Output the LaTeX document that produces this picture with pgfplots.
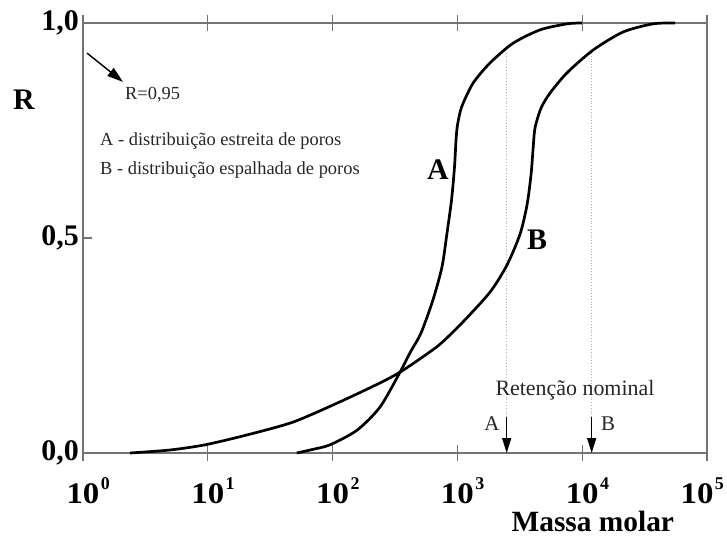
\documentclass[border=0pt]{standalone}
\usepackage{fontspec}
\setmainfont{Liberation Serif}
\usepackage{pgfplots}
\pgfplotsset{compat=1.18}
\usetikzlibrary{arrows.meta}
\newcommand{\dec}[1]{\scalebox{1.1}[1]{10}\rlap{\hspace{1.5bp}\raisebox{14bp}{\fontsize{18}{18}\selectfont #1}}}
\begin{document}
\begin{tikzpicture}
\useasboundingbox (-83bp,-89bp) rectangle (644bp,453bp);
\begin{axis}[
  at={(0,0)}, anchor=south west,
  scale only axis, width=624bp, height=430bp,
  xmode=log, xmin=1, xmax=1e5, ymin=0, ymax=1,
  clip=false,
  axis line style={black!55, line width=1.3bp},
  xtick={1,10,100,1000,10000,100000},
  xticklabels={\dec{0},\dec{1},\dec{2},\dec{3},\dec{4},\hspace*{-20bp}\dec{5}},
  xminorticks=false,
  tick align=center, major tick length=16bp,
  xtick style={black!55, line width=1.3bp},
  ytick={0,0.5,1}, yticklabels={{0,0},{0,5},{1,0}},
  ytick style={draw=none},
  xticklabel style={font=\bfseries\fontsize{30}{30}\selectfont, anchor=base, yshift=-42bp, inner sep=0pt},
  yticklabel style={font=\bfseries\fontsize{30}{30}\selectfont, anchor=east, inner sep=0pt, xshift=4bp},
  xlabel={Massa molar}, ylabel={R},
  every axis x label/.style={at={(axis description cs:0.817,0)}, anchor=base, yshift=-78bp, inner sep=0pt, font=\bfseries\fontsize{29.5}{29.5}\selectfont},
  every axis y label/.style={at={(axis description cs:0,0.821)}, anchor=center, xshift=-59bp, inner sep=0pt, font=\bfseries\fontsize{30}{30}\selectfont},
]
% y tick at 0.5 (inside only)
\draw[black!55, line width=1.3bp] (axis cs:1,0.5) -- (axis cs:1.18,0.5);
% dotted guide lines
\draw[black!30, dotted, line width=0.8bp] (axis cs:2483,0.93) -- (axis cs:2483,0.085);
\draw[black!30, dotted, line width=0.8bp] (axis cs:11912,0.93) -- (axis cs:11912,0.085);
% curve A
\addplot[black, line width=2.7bp, smooth, tension=0.45] coordinates {
(51.6,0) (68.4,0.008) (95.3,0.019) (157,0.053) (240,0.107) (347,0.188) (417,0.233)
(511,0.279) (637,0.356) (753,0.433) (826,0.512) (897,0.588) (948,0.665) (975,0.728)
(1002,0.763) (1082,0.805) (1334,0.860) (1824,0.907) (2793,0.953) (4592,0.984)
(7551,0.998) (9954,1.0)
};
% curve B
\addplot[black, line width=2.7bp, smooth, tension=0.45] coordinates {
(2.38,0) (4.98,0.007) (9.5,0.019) (20.6,0.042) (48.3,0.072) (114.6,0.119) (240,0.163)
(347,0.188) (501,0.219) (726,0.253) (1110,0.305) (1824,0.374) (2495,0.437) (3176,0.509)
(3614,0.577) (3891,0.647) (4035,0.705) (4188,0.756) (4677,0.802) (5521,0.837)
(7551,0.884) (12220,0.937) (21230,0.979) (36900,0.998) (55460,1.0)
};
% arrows
\draw[line width=1.4bp, -{Triangle[length=15bp,width=9bp]}] (axis cs:2483,0.084) -- (axis cs:2483,0);
\draw[line width=1.4bp, -{Triangle[length=15bp,width=9bp]}] (axis cs:11912,0.084) -- (axis cs:11912,0);
\draw[line width=1.4bp, -{Triangle[length=16bp,width=10bp]}] (axis cs:1.077,0.930) -- (axis cs:2.092,0.863);
% texts
\node[anchor=base west, font=\fontsize{18.5}{18.5}\selectfont, text=black!85, inner sep=0pt] at (axis cs:2.17,0.823) {R=0,95};
\node[anchor=base west, font=\fontsize{18.5}{18.5}\selectfont, text=black!85, inner sep=0pt] at (axis cs:1.368,0.714) {A - distribuição estreita de poros};
\node[anchor=base west, font=\fontsize{18.5}{18.5}\selectfont, text=black!85, inner sep=0pt] at (axis cs:1.368,0.6488) {B - distribuição espalhada de poros};
\node[anchor=base, font=\fontsize{22}{22}\selectfont, text=black!85, inner sep=0pt] at (axis cs:8750,0.1326) {Retenção nominal};
\node[anchor=base, font=\fontsize{21}{21}\selectfont, text=black!85, inner sep=0pt] at (axis cs:1893,0.052) {A};
\node[anchor=base, font=\fontsize{21}{21}\selectfont, text=black!85, inner sep=0pt] at (axis cs:16100,0.052) {B};
\node[font=\bfseries\fontsize{30}{30}\selectfont, inner sep=0pt] at (axis cs:699,0.658) {A};
\node[font=\bfseries\fontsize{30}{30}\selectfont, inner sep=0pt] at (axis cs:4345,0.4953) {B};
\end{axis}
\end{tikzpicture}
\end{document}
